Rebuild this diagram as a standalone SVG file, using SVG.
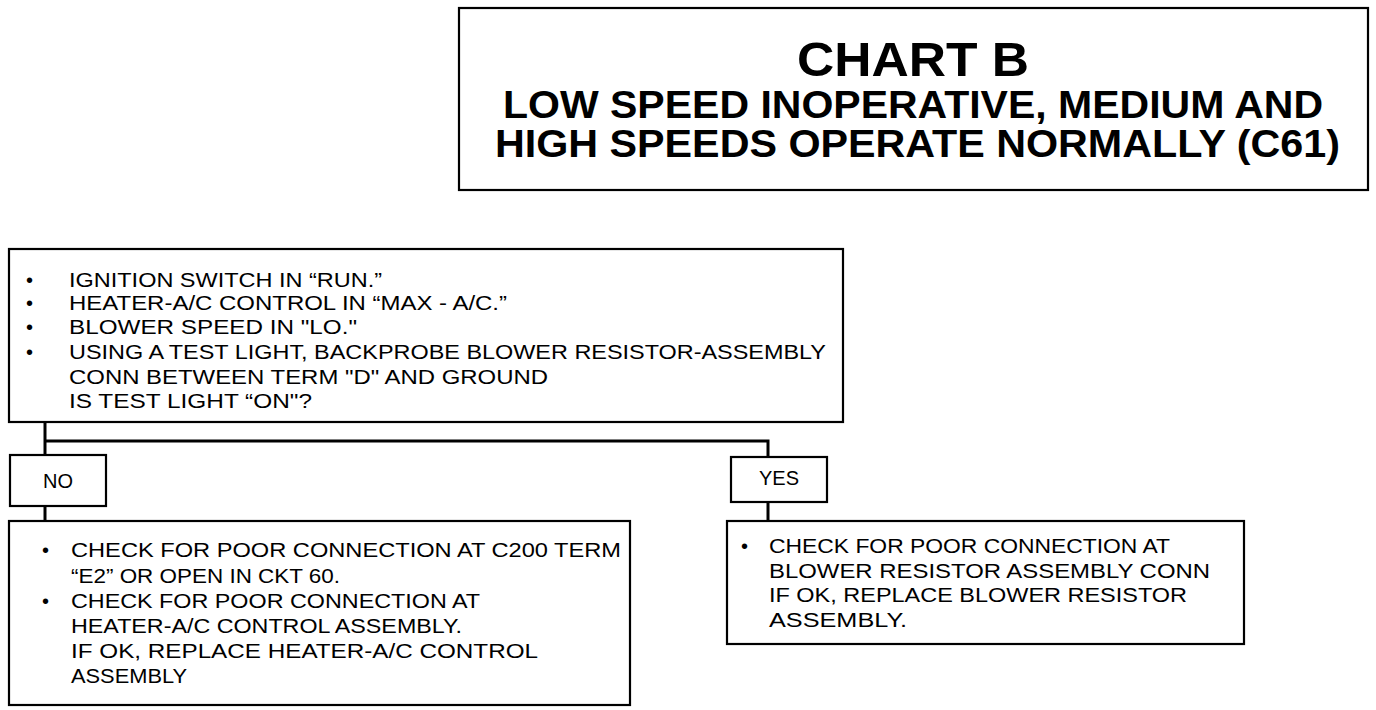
<svg xmlns="http://www.w3.org/2000/svg" width="1376" height="710" viewBox="0 0 1376 710">
<style>
.box{fill:#fff;stroke:#000;stroke-width:2.2}
.t{font-family:"Liberation Sans",Arial,sans-serif;font-size:20px;fill:#000}
.h{font-family:"Liberation Sans",Arial,sans-serif;font-weight:bold;fill:#000}
.c{fill:none;stroke:#000;stroke-width:3}
</style>
<rect width="1376" height="710" fill="#fff"/>
<g id="title">
<rect class="box" x="459" y="8" width="909" height="182"/>
<text class="h" x="913" y="76" font-size="48" text-anchor="middle" textLength="232" lengthAdjust="spacingAndGlyphs">CHART B</text>
<text class="h" x="503" y="118" font-size="38" textLength="820" lengthAdjust="spacingAndGlyphs">LOW SPEED INOPERATIVE, MEDIUM AND</text>
<text class="h" x="495" y="157" font-size="38" textLength="845" lengthAdjust="spacingAndGlyphs">HIGH SPEEDS OPERATE NORMALLY (C61)</text>
</g>
<g id="connectors">
<path class="c" d="M45 422 V456"/>
<path class="c" d="M45 441 H768 V458"/>
<path class="c" d="M45 506 V521"/>
<path class="c" d="M768 502 V521"/>
</g>
<g id="start">
<rect class="box" x="9" y="249" width="834" height="173"/>
<text class="t" x="26" y="287">•</text>
<text class="t" x="69" y="287" textLength="313" lengthAdjust="spacingAndGlyphs">IGNITION SWITCH IN “RUN.”</text>
<text class="t" x="26" y="310">•</text>
<text class="t" x="69" y="310" textLength="438" lengthAdjust="spacingAndGlyphs">HEATER-A/C CONTROL IN “MAX - A/C.”</text>
<text class="t" x="26" y="334">•</text>
<text class="t" x="69" y="334" textLength="288" lengthAdjust="spacingAndGlyphs">BLOWER SPEED IN "LO."</text>
<text class="t" x="26" y="359">•</text>
<text class="t" x="69" y="359" textLength="757" lengthAdjust="spacingAndGlyphs">USING A TEST LIGHT, BACKPROBE BLOWER RESISTOR-ASSEMBLY</text>
<text class="t" x="69" y="384" textLength="479" lengthAdjust="spacingAndGlyphs">CONN BETWEEN TERM "D" AND GROUND</text>
<text class="t" x="69" y="408" textLength="243" lengthAdjust="spacingAndGlyphs">IS TEST LIGHT “ON"?</text>
</g>
<g id="no">
<rect class="box" x="10" y="455" width="96" height="51"/>
<text class="t" x="58" y="488" text-anchor="middle">NO</text>
</g>
<g id="yes">
<rect class="box" x="731" y="457" width="96" height="45"/>
<text class="t" x="779" y="485" text-anchor="middle">YES</text>
</g>
<g id="no-action">
<rect class="box" x="9" y="521" width="621" height="184"/>
<text class="t" x="42" y="557">•</text>
<text class="t" x="71" y="557" textLength="550" lengthAdjust="spacingAndGlyphs">CHECK FOR POOR CONNECTION AT C200 TERM</text>
<text class="t" x="71" y="583" textLength="269" lengthAdjust="spacingAndGlyphs">“E2” OR OPEN IN CKT 60.</text>
<text class="t" x="42" y="608">•</text>
<text class="t" x="71" y="608" textLength="409" lengthAdjust="spacingAndGlyphs">CHECK FOR POOR CONNECTION AT</text>
<text class="t" x="71" y="633" textLength="391" lengthAdjust="spacingAndGlyphs">HEATER-A/C CONTROL ASSEMBLY.</text>
<text class="t" x="71" y="658" textLength="467" lengthAdjust="spacingAndGlyphs">IF OK, REPLACE HEATER-A/C CONTROL</text>
<text class="t" x="71" y="683" textLength="116" lengthAdjust="spacingAndGlyphs">ASSEMBLY</text>
</g>
<g id="yes-action">
<rect class="box" x="727" y="521" width="517" height="123"/>
<text class="t" x="741" y="553">•</text>
<text class="t" x="769" y="553" textLength="401" lengthAdjust="spacingAndGlyphs">CHECK FOR POOR CONNECTION AT</text>
<text class="t" x="769" y="578" textLength="441" lengthAdjust="spacingAndGlyphs">BLOWER RESISTOR ASSEMBLY CONN</text>
<text class="t" x="769" y="602" textLength="418" lengthAdjust="spacingAndGlyphs">IF OK, REPLACE BLOWER RESISTOR</text>
<text class="t" x="769" y="627" textLength="138" lengthAdjust="spacingAndGlyphs">ASSEMBLY.</text>
</g>
</svg>
